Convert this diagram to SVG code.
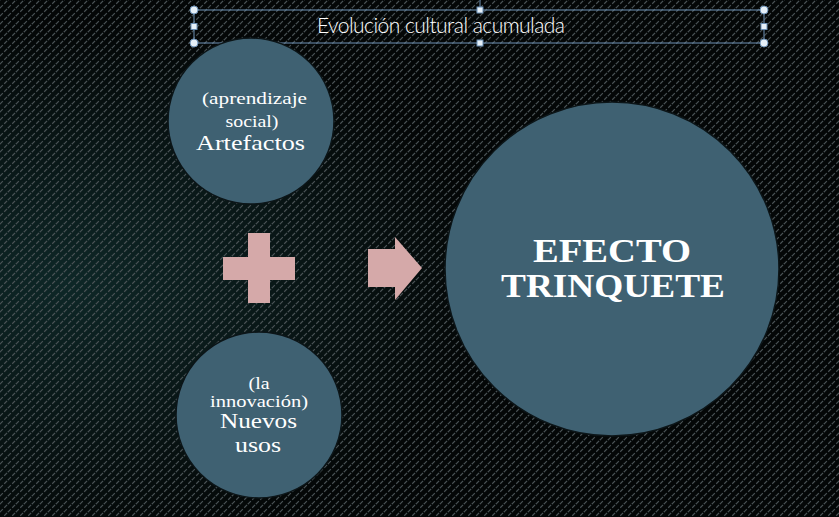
<svg xmlns="http://www.w3.org/2000/svg" width="839" height="517" viewBox="0 0 839 517">
<defs>
<pattern id="weave" width="8" height="8" patternUnits="userSpaceOnUse">
<path d="M0 8 L8 0 M-2 2 L2 -2 M6 10 L10 6" stroke="#4a5356" stroke-width="1.2" stroke-dasharray="4 2"/>
</pattern>
<radialGradient id="glow" cx="0.08" cy="0.55" r="0.5">
<stop offset="0" stop-color="#0e2727"/>
<stop offset="1" stop-color="#040707"/>
</radialGradient>
<style>
.node{fill:#3f6172;stroke:#0c1518;stroke-width:1.5}
.s{font-family:"Liberation Serif","DejaVu Serif",serif;fill:#ffffff;text-anchor:middle}
.shape{fill:#d5a9a9}
.h{fill:#e6f0f8;stroke:#6a8fb5;stroke-width:1}
</style>
</defs>
<rect width="839" height="517" fill="url(#glow)"/>
<rect width="839" height="517" fill="url(#weave)"/>
<g id="title">
<line x1="480" y1="0" x2="480" y2="10" stroke="#6f93b8"/>
<rect x="194" y="10" width="570" height="33" fill="none" stroke="#6f93b8" stroke-width="1"/>
<text x="441" y="33" font-family="Lato,'Liberation Sans',sans-serif" font-weight="300" font-size="21" fill="#ffffff" text-anchor="middle" textLength="248">Evolución cultural acumulada</text>
<circle class="h" cx="194" cy="10" r="4"/><circle class="h" cx="764" cy="10" r="4"/>
<circle class="h" cx="194" cy="43" r="4"/><circle class="h" cx="764" cy="43" r="4"/>
<rect class="h" x="477" y="7" width="6" height="6"/><rect class="h" x="477" y="40" width="6" height="6"/>
<rect class="h" x="191" y="23.5" width="6" height="6"/><rect class="h" x="761" y="23.5" width="6" height="6"/>
</g>
<g id="artefactos">
<circle class="node" cx="251" cy="121" r="83"/>
<text class="s" x="254.5" y="104" font-size="16" textLength="105" lengthAdjust="spacingAndGlyphs">(aprendizaje</text>
<text class="s" x="252" y="127" font-size="16" textLength="53" lengthAdjust="spacingAndGlyphs">social)</text>
<text class="s" x="250.5" y="150" font-size="21" textLength="109" lengthAdjust="spacingAndGlyphs">Artefactos</text>
</g>
<g id="nuevos-usos">
<circle class="node" cx="259" cy="415" r="83"/>
<text class="s" x="259" y="389" font-size="16" textLength="21" lengthAdjust="spacingAndGlyphs">(la</text>
<text class="s" x="259" y="407" font-size="16" textLength="98" lengthAdjust="spacingAndGlyphs">innovación)</text>
<text class="s" x="258.5" y="428" font-size="21" textLength="77" lengthAdjust="spacingAndGlyphs">Nuevos</text>
<text class="s" x="258" y="452" font-size="21" textLength="46" lengthAdjust="spacingAndGlyphs">usos</text>
</g>
<g id="plus">
<path class="shape" d="M248 233 H270 V257 H295 V280 H270 V303 H248 V280 H223 V257 H248 Z"/>
</g>
<g id="arrow">
<path class="shape" d="M368 249 H395 V237 L422 268 L395 300 V287 H368 Z"/>
</g>
<g id="efecto-trinquete">
<circle class="node" cx="612" cy="269" r="167"/>
<text class="s" x="612" y="262" font-size="33" font-weight="bold" textLength="158" lengthAdjust="spacingAndGlyphs">EFECTO</text>
<text class="s" x="613" y="297" font-size="33" font-weight="bold" textLength="224" lengthAdjust="spacingAndGlyphs">TRINQUETE</text>
</g>
<g id="connectors"/>
</svg>
